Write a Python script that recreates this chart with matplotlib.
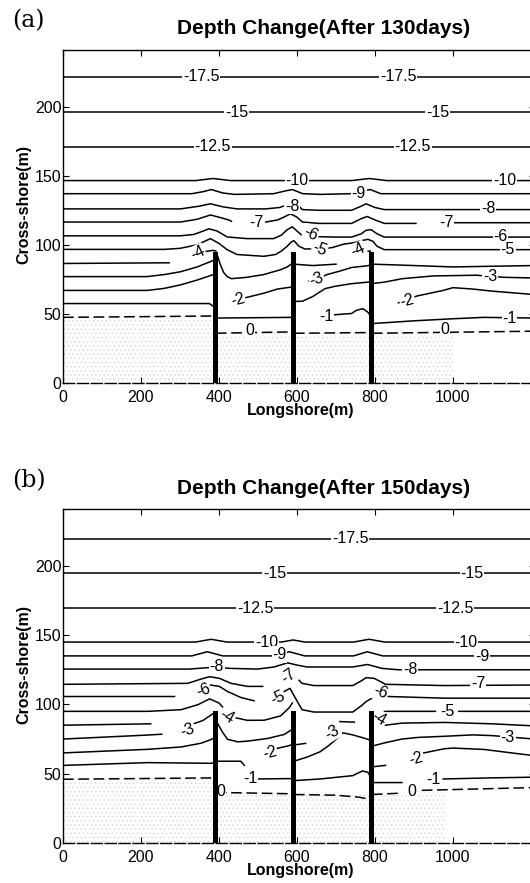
import numpy as np
import matplotlib
matplotlib.use("Agg")
import matplotlib.pyplot as plt

plt.rcParams['font.family'] = ['Liberation Sans', 'DejaVu Sans']
plt.rcParams['hatch.linewidth'] = 0.6

N = None  # break in a contour line (label gap / groin)

# groins (longshore position, length)
groin_x = [390, 590, 790]
groin_top = 95

# ---- panel (a): depth change after 130 days, contour paths (x, y) in metres
a_m17_5 = [(0, 221.5), (1209, 221.5)]
a_m15 = [(0, 196), (1209, 196)]
a_m12_5 = [(0, 171), (1209, 171)]
a_m10 = [(0, 146.5), (340, 146.5), (385, 148), (430, 146.5), (740, 146.5), (785, 148),
         (830, 146.5), (1209, 146.5)]
a_m9 = [(0, 137), (330, 137), (360, 138.5), (380, 140), (410, 137.5), (440, 136.5),
        (540, 137), (570, 139), (588, 140), (615, 137), (660, 136.5), (740, 137),
        (770, 139), (788, 140), (815, 137), (1209, 137)]
a_m8 = [(0, 126), (301, 126), (350, 128), (378, 129.7), (410, 127.5), (446, 126),
        (519, 126), (555, 127), (575, 129), (588, 130), (605, 128), (614, 125.5),
        (656, 125), (740, 125), (765, 128), (777, 129.7), (800, 127), (824, 125.5),
        (1209, 125.5)]
a_m7 = [(0, 116.5), (301, 116.5), (344, 118.5), (378, 121.6), (400, 120), (425, 118),
        (432, 117), N, (520, 116.5), (550, 118), (570, 120.5), (583, 122.5), (600, 120),
        (614, 116.5), (656, 115.5), (740, 115.5), (765, 119), (780, 120.5), (800, 118),
        (824, 115.5), (905, 115.5), N, (1000, 116), (1209, 116)]
a_m6 = [(0, 106.5), (301, 106.5), (335, 107.5), (360, 110), (374, 111.6), (395, 110),
        (421, 105.7), (472, 104.5), (540, 104.5), (560, 107), (575, 111), (588, 113),
        (600, 110), (612, 107), (640, 106), (700, 105.6), (740, 105.6), (765, 108),
        (777, 110.5), (790, 111), (805, 108), (824, 105.6), (1209, 105.6)]
a_m5 = [(0, 96.7), (260, 96.7), (301, 97.5), (344, 100), (378, 104.5), (400, 101),
        (421, 96.5), (446, 93), (515, 91.7), (545, 93), (560, 95.5), (575, 99), (585, 102),
        (592, 103), (605, 99), (620, 97), (660, 97), (690, 98), (720, 100.5), (745, 101.5),
        (765, 103), (782, 104), (795, 102.5), (805, 99), (824, 96.5), (1209, 96.5)]
a_m4 = [(0, 86.5), (272, 87), N, (361, 95), (385, 96), (392, 95.5), N,
        (394, 94), (403, 86), (412, 80), (421, 77), (432, 75.5), (472, 76.5), (515, 78.5),
        (558, 82), (575, 84), (590, 87), N, (592, 86), (640, 85), (700, 86), N,
        (770, 95), (788, 95.5), N, (794, 86), (900, 85), (1000, 84), (1100, 84.5), (1209, 85)]
a_m3 = [(0, 77), (216, 77), (260, 78.5), (301, 80.5), (344, 84), (375, 87.5), (388, 89), N,
        (630, 74), (650, 75), (676, 78.4), (710, 81), (740, 83.6), (782, 84.9), (788, 85.5), N,
        (794, 72), (824, 73), (870, 75.5), (950, 77.5), (1060, 78), (1130, 76.5), (1209, 76)]
a_m2 = [(0, 67), (216, 67), (260, 68.5), (301, 71), (344, 74.5), (385, 78.4), (388, 79), N,
        (430, 59), (472, 62), (515, 65), (550, 68), (575, 69), (588, 69.5), N,
        (592, 59), (614, 59.2), (640, 62.5), (672, 68.3), (698, 70), (740, 71.9), (782, 73),
        (788, 73), N, (860, 58), (908, 63), (975, 67), (1000, 69), (1050, 68), (1100, 66.5),
        (1209, 64)]
a_m1 = [(0, 57.5), (375, 57.5), (388, 55), N, (392, 47), (590, 47.5), N,
        (660, 48.5), (706, 49.6), (740, 50.3), (752, 52.6), (769, 53.8), (781, 51.4),
        (788, 49), N, (792, 43), (900, 45), (1000, 46.5), (1080, 47.5), (1209, 47)]
a_0 = [(0, 47.5), (388, 48.5), N, (392, 36), (588, 37), N, (592, 36), (788, 36.5), N,
       (792, 36), (1209, 37.5)]
a_sand = [(0, 0), (0, 47.5), (388, 48.5), (388, 36), (1000, 37), (1000, 0)]

a_labels = [(355, 221.5, '-17.5', 0), (860, 221.5, '-17.5', 0),
            (445, 196, '-15', 0), (960, 196, '-15', 0),
            (384, 171, '-12.5', 0), (897, 171, '-12.5', 0),
            (600, 146.5, '-10', 0), (1132, 146.5, '-10', 0),
            (758, 137, '-9', 0),
            (588, 128, '-8', 0), (1090, 126, '-8', 0),
            (497, 116.5, '-7', 0), (982, 116, '-7', 0),
            (636, 108, '-6', -25), (1122, 106, '-6', 0),
            (658, 97, '-5', -20), (1140, 96.5, '-5', 0),
            (345, 94, '-4', 25), (757, 96, '-4', 25),
            (650, 75, '-3', 20), (1095, 77, '-3', 0),
            (448, 60, '-2', 15), (883, 59.5, '-2', 15),
            (675, 48, '-1', 0), (1145, 46.5, '-1', 0),
            (480, 38, '0', 0), (980, 38.5, '0', 0)]

# ---- panel (b): depth change after 150 days
b_m17_5 = [(0, 219.5), (1209, 219.5)]
b_m15 = [(0, 194.5), (1209, 194.5)]
b_m12_5 = [(0, 169.5), (1209, 169.5)]
b_m10 = [(0, 145), (340, 145), (380, 147), (420, 145), (560, 145), (590, 146.5), (620, 145),
         (745, 145), (785, 147), (825, 145), (1209, 145)]
b_m9 = [(0, 135), (330, 135), (370, 138), (410, 135), (540, 135), (580, 138), (620, 135),
        (745, 135), (780, 138), (820, 135), (1209, 135)]
b_m8 = [(0, 125.5), (324, 125.5), (394, 127), (427, 126), (499, 125.5), (541, 127),
        (576, 130), (601, 128.3), (626, 127), (743, 127), (781, 128.8), (818, 126),
        (860, 125), (1209, 125)]
b_m7 = [(0, 114.5), (320, 115.2), (354, 118.3), (376, 120), (401, 118.8), (431, 115.2),
        (473, 113), (512, 113), N, (590, 121), (600, 119), (613, 115.2), (643, 113.6),
        (743, 113.6), (765, 117), (777, 119.3), (798, 118.8), (827, 114.5), (978, 113.6),
        (1209, 114)]
b_m6 = [(0, 105.7), (286, 105.7), N, (378, 114), (401, 113), (422, 109.3), (456, 105),
        (490, 102.6), N, (565, 109), (582, 111.6), (597, 104), (613, 96.2), (643, 94.5),
        (743, 94.5), (765, 99), (777, 102), (789, 104), (814, 107), (835, 105.7),
        (978, 104.5), (1209, 104.5)]
b_m5 = [(0, 95), (218, 95), (303, 96.2), (346, 99.8), (376, 104), (400, 101), (420, 95),
        (440, 90.5), (473, 88.5), (516, 88.6), (558, 91.7), (580, 97.6), (588, 101), N,
        (794, 93), (827, 95), (955, 95), N, (1015, 95), (1209, 95)]
b_m4 = [(0, 85), (225, 86), N, (710, 87.6), (747, 87.2), N,
        (827, 85), (869, 86.5), (978, 87), (1100, 86), (1209, 84.5)]
b_m3 = [(0, 75), (218, 77.9), (253, 78.5), N, (329, 85.5), (358, 88.3), (381, 92.6),
        (388, 94), N, (393, 88), (410, 79.5), (422, 74.8), (448, 73), (473, 73.5),
        (524, 75.4), (567, 78.3), (588, 82), N, (592, 59), (626, 62), (659, 65.8), (680, 70),
        (701, 75), (718, 79.5), (743, 78), (768, 76), (785, 74.5), (788, 73), N,
        (794, 70), (827, 72.4), (869, 75), (911, 76.2), (978, 77), (1050, 78), (1100, 77.5),
        (1209, 75)]
b_m2 = [(0, 65), (218, 67.6), (303, 69.3), (354, 72), (381, 74.8), (388, 76), N,
        (545, 68), (576, 70), (588, 71), N, (592, 70.7), (622, 71.9), N,
        (794, 55), (827, 56), N, (925, 65), (978, 68), (1000, 68.5), (1080, 67.5),
        (1150, 65), (1209, 63)]
b_m1 = [(0, 56), (218, 58), (380, 57.5), (388, 58), N, (392, 59), (456, 59), (465, 56), N,
        (500, 46.2), (588, 46.5), N, (592, 45), (659, 46.2), (743, 48.6), (768, 52),
        (782, 51), (788, 48), N, (794, 43.6), (869, 43.6), N, (975, 46.2), (1100, 47),
        (1209, 47.5)]
b_0 = [(0, 46), (388, 47), N, (392, 36.5), (588, 35.5), N, (592, 35), (700, 34.5),
       (760, 33), (788, 31.5), N, (792, 35), (870, 36), N, (920, 38), (1209, 40)]
b_sand = [(0, 0), (0, 46), (388, 47), (388, 36.5), (980, 37), (980, 0)]

b_labels = [(737, 219.5, '-17.5', 0),
            (543, 194.5, '-15', 0), (1049, 194.5, '-15', 0),
            (493, 169.5, '-12.5', 0), (1005, 169.5, '-12.5', 0),
            (522, 145, '-10', 0), (1033, 145, '-10', 0),
            (555, 136, '-9', 0), (1075, 134.5, '-9', 0),
            (394, 127, '-8', 0), (890, 125.5, '-8', 0),
            (578, 120, '-7', 35), (1065, 115, '-7', 0),
            (359, 110.5, '-6', 20), (814, 108.5, '-6', -20),
            (550, 105, '-5', 25), (985, 95, '-5', 0),
            (420, 91, '-4', -30), (810, 90, '-4', -30),
            (320, 81, '-3', 20), (690, 80, '-3', 30), (1140, 76, '-3', 0),
            (530, 65, '-2', 15), (905, 61, '-2', 15),
            (480, 46.5, '-1', 0), (950, 45.5, '-1', 0),
            (405, 37, '0', 0), (895, 37, '0', 0)]

a_lines = [a_m17_5, a_m15, a_m12_5, a_m10, a_m9, a_m8, a_m7, a_m6, a_m5, a_m4, a_m3, a_m2, a_m1]
b_lines = [b_m17_5, b_m15, b_m12_5, b_m10, b_m9, b_m8, b_m7, b_m6, b_m5, b_m4, b_m3, b_m2, b_m1]

x_ticks = [0, 200, 400, 600, 800, 1000]
y_ticks = [0, 50, 100, 150, 200]


def path(points):
    xs = [np.nan if p is None else p[0] for p in points]
    ys = [np.nan if p is None else p[1] for p in points]
    return np.array(xs, dtype=float), np.array(ys, dtype=float)


def draw_panel(ax, lines, zero, sand, labels):
    sx, sy = path(sand)
    ax.fill(sx, sy, facecolor='none', edgecolor='#d9d9d9', hatch='....', lw=0, zorder=0)
    for pts in lines:
        x, y = path(pts)
        ax.plot(x, y, color='black', lw=1.1, zorder=2)
    x, y = path(zero)
    ax.plot(x, y, color='black', lw=1.1, ls=(0, (7, 3)), zorder=2)
    for lx, ly, txt, rot in labels:
        ax.text(lx, ly, txt, rotation=rot, ha='center', va='center', fontsize=11.5,
                bbox=dict(boxstyle='square,pad=0.05', fc='white', ec='none'), zorder=3)
    ax.bar(groin_x, groin_top, width=13, color='black', zorder=4)

    ax.set_xlim(0, 1209)
    ax.set_ylim(0, 241)
    ax.set_xticks(x_ticks)
    ax.set_yticks(y_ticks)
    ax.tick_params(direction='in', length=4, width=0.8, top=True, right=True, labelsize=11.5)
    ax.tick_params(axis='x', pad=5)
    ax.tick_params(axis='y', pad=1)
    for s in ax.spines.values():
        s.set_linewidth(1.0)
    ax.spines['bottom'].set_linestyle((0, (8, 2)))


fig = plt.figure(figsize=(5.3, 8.83), dpi=100)
ax_a = fig.add_axes([63 / 530, 1 - 383 / 883, 471.5 / 530, 333 / 883])
ax_b = fig.add_axes([63 / 530, 1 - 843 / 883, 471.5 / 530, 334 / 883])

draw_panel(ax_a, a_lines, a_0, a_sand, a_labels)
draw_panel(ax_b, b_lines, b_0, b_sand, b_labels)

for top, tag, title in [(0, '(a)', 'Depth Change(After 130days)'),
                        (460, '(b)', 'Depth Change(After 150days)')]:
    fig.text(12 / 530, 1 - (top + 21) / 883, tag, family='DejaVu Serif', fontsize=17,
             ha='left', va='center')
    fig.text(324 / 530, 1 - (top + 29) / 883, title, fontsize=15, fontweight='bold',
             ha='center', va='center')
    fig.text(301 / 530, 1 - (top + 411) / 883, 'Longshore(m)', fontsize=11.5,
             fontweight='bold', ha='center', va='center')
    fig.text(24 / 530, 1 - (top + 205) / 883, 'Cross-shore(m)', fontsize=11.5,
             fontweight='bold', ha='center', va='center', rotation=90)

fig.savefig('out.png', dpi=100)
